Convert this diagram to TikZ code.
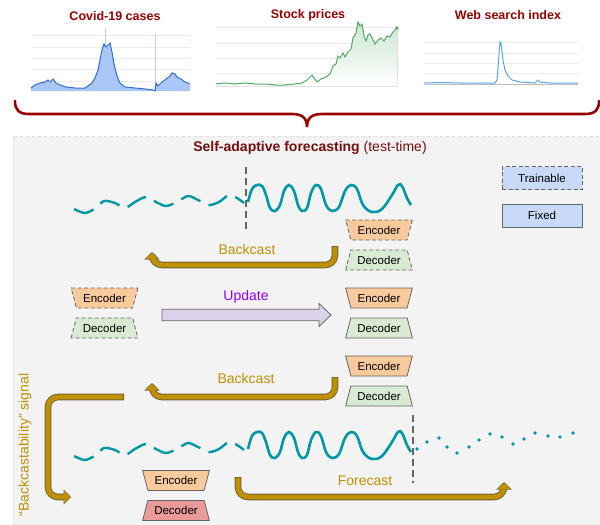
\documentclass[tikz,border=0pt]{standalone}
\usepackage{fontspec}
\setmainfont{Liberation Sans}
\usetikzlibrary{shapes.geometric,arrows.meta,positioning,calc}
\definecolor{berryRed}{RGB}{153,0,0}
\definecolor{maroonTitle}{RGB}{115,15,15}
\definecolor{waveTeal}{RGB}{0,151,167}
\definecolor{goldArrow}{RGB}{191,144,0}
\definecolor{goldEdge}{RGB}{115,98,55}
\definecolor{updatePurple}{RGB}{153,0,255}
\definecolor{updateFill}{RGB}{217,210,233}
\definecolor{encOrange}{RGB}{249,203,156}
\definecolor{decGreen}{RGB}{217,234,211}
\definecolor{decRed}{RGB}{234,153,153}
\definecolor{legendBlue}{RGB}{201,218,248}
\definecolor{panelGray}{RGB}{243,243,243}
\definecolor{edgeGray}{RGB}{102,102,102}
\definecolor{covidFill}{RGB}{168,198,246}
\definecolor{covidLine}{RGB}{51,110,210}
\definecolor{stockGreen}{RGB}{87,170,105}
\definecolor{searchBlue}{RGB}{90,165,232}
\definecolor{gridGray}{RGB}{236,236,236}

\tikzset{
  coder/.style={trapezium, trapezium stretches=true, trapezium left angle=68,
    trapezium right angle=68, minimum width=67pt, minimum height=20pt,
    inner xsep=1pt, inner ysep=1pt, draw=edgeGray, line width=0.8pt,
    font=\fontsize{11.5}{12}\selectfont},
  encoder/.style={coder, fill=encOrange, shape border rotate=180},
  decoder/.style={coder, fill=decGreen},
  trainable/.style={dash pattern=on 4pt off 2.5pt},
  legendbox/.style={draw=edgeGray, fill=legendBlue, line width=0.8pt,
    minimum width=80pt, minimum height=23pt, font=\fontsize{11.5}{12}\selectfont},
  steplabel/.style={font=\fontsize{14}{16}\selectfont, text=goldArrow},
  fatedge/.style={line width=6.6pt, draw=goldEdge, rounded corners=10pt,
    -{Triangle[width=15pt,length=7.5pt]}},
  fatcore/.style={line width=4.8pt, draw=goldArrow, rounded corners=10pt,
    -{Triangle[width=12.3pt,length=5.9pt]}, shorten >=1pt, shorten <=0.9pt},
  pastline/.style={waveTeal, line width=2.4pt, dash pattern=on 21pt off 9pt},
  nowline/.style={waveTeal, line width=2.6pt},
  cutline/.style={draw=edgeGray, line width=1.6pt, dash pattern=on 7pt off 4pt},
  chartgrid/.style={draw=gridGray, line width=0.5pt},
  chartname/.style={font=\fontsize{12.5}{14}\bfseries\selectfont, text=berryRed}
}
\newcommand{\fatarrow}[1]{\draw[fatedge] #1; \draw[fatcore] #1;}
\newcommand{\covidpts}{plot coordinates {(31,88) (35,85) (40,83) (45,82) (48,80)
  (50,82) (53,79) (56,83) (60,85) (66,87) (75,88) (85,88) (88,86) (92,83)
  (95,78) (98,70) (100,60) (102,50) (104,44) (106,47) (108,45) (110,43)
  (112,52) (114,64) (117,76) (120,83) (125,87) (135,88) (145,89) (153,90)
  (155,91) (156,83) (158,86) (162,82) (166,79) (170,76) (172,73) (175,74)
  (177,77) (181,79) (185,82) (190,84)}}
\newcommand{\stockpts}{plot coordinates {(216,84) (225,83) (235,84) (245,83)
  (255,84) (265,84) (275,85) (285,85) (295,84) (302,83) (307,80) (312,75)
  (314,78) (317,82) (321,79) (326,77) (330,74) (333,66) (336,64) (338,56)
  (340,58) (343,53) (345,57) (348,52) (351,49) (353,38) (356,33) (358,22)
  (360,26) (362,24) (364,36) (366,41) (368,35) (370,34) (372,38) (375,44)
  (378,40) (381,38) (384,41) (387,36) (390,37) (393,32) (397,28)}}
\newcommand{\searchpts}{plot coordinates {(424,83) (440,82.5) (460,83) (480,83)
  (495,83) (497,80) (499,55) (500,42) (501,43) (503,60) (505,70) (508,76)
  (512,80) (520,82) (535,83) (538,80) (540,82) (550,83) (578,83)}}
\newcommand{\pastwave}{plot[smooth] coordinates {(74,456) (85,460) (96,455)
  (104,448) (115,450) (125,455) (135,449) (146,444) (156,449) (166,453)
  (177,449) (188,443) (198,447) (209,452) (219,449) (229,442) (237,445) (244,450)}}
\newcommand{\nowwave}{plot[smooth, tension=0.6] coordinates {(248,449) (252,436)
  (257,432) (262,433) (266,442) (270,455) (275,458) (280,452) (284,438)
  (289,432) (294,438) (298,452) (302,458) (307,455) (311,440) (316,432)
  (321,436) (326,452) (332,458) (339,454) (345,438) (351,432) (357,436)
  (363,452) (372,459) (382,456) (392,442) (398,432) (402,433) (407,445) (411,452)}}

\begin{document}
\begin{tikzpicture}[x=1pt,y=-1pt]
\useasboundingbox (0,0) rectangle (600,525);

% three example series
\foreach \g in {35,47,58,69,81} \draw[chartgrid] (31,\g) -- (190,\g);
\foreach \g in {27,43,58,73} \draw[chartgrid] (216,\g) -- (398,\g);
\foreach \g in {42,53,63,73} \draw[chartgrid] (424,\g) -- (578,\g);
\fill[covidFill] \covidpts -- (190,91) -- (31,91) -- cycle;
\draw[covidFill!80, line width=0.6pt] (105,28) -- (105,50) (155,34) -- (155,90);
\draw[covidLine, line width=1pt] \covidpts;
\fill[top color=stockGreen!30, bottom color=white] \stockpts -- (397,86) -- (216,86) -- cycle;
\draw[stockGreen, line width=1pt] \stockpts;
\fill[stockGreen] (397,28) circle (1.8pt);
\draw[gridGray!80!black, line width=0.4pt] (424,84) -- (578,84);
\draw[searchBlue, line width=1pt] \searchpts;
\node[chartname] (covid) at (115,16) {Covid-19 cases};
\node[chartname] (stock) at (308,15) {Stock prices};
\node[chartname] (search) at (508,15) {Web search index};

% brace
\draw[berryRed, line width=2.6pt, line cap=round]
  (15,101) .. controls (15,110) and (19,114) .. (29,114) -- (292,114)
  .. controls (301,114) and (307,117) .. (307,127)
  .. controls (307,117) and (313,114) .. (322,114) -- (585,114)
  .. controls (595,114) and (599,110) .. (599,101);

% panel
\fill[panelGray] (13,136) rectangle (600,525);
\draw[gray!25, dashed] (13,525) -- (13,136) -- (600,136);
\node[text=maroonTitle, font=\fontsize{14}{16}\selectfont] (title) at (310,148)
  {\textbf{Self-adaptive forecasting} (test-time)};

% legend
\node[legendbox, trainable] (trainLeg) at (542,178) {Trainable};
\node[legendbox] (fixedLeg) at (542,215.5) {Fixed};

% row 1
\begin{scope}[shift={(0,-247)}]
  \draw[pastline] \pastwave;
  \draw[nowline] \nowwave;
\end{scope}
\draw[cutline] (246,167) -- (246,231);
\node[encoder, trainable] (enc1) at (379,230) {Encoder};
\node[decoder, trainable] (dec1) at (379,260) {Decoder};
\coordinate (bc1s) at (335,246);
\coordinate (bc1e) at (152,252);
\fatarrow{(bc1s) -- ++(0,19) -| (bc1e)}
\node[steplabel] (bc1) at (247,249) {Backcast};

% row 2
\node[encoder, trainable] (encL) at (104.5,298) {Encoder};
\node[decoder, trainable] (decL) at (104.5,328) {Decoder};
\node[encoder] (encR) at (379,298) {Encoder};
\node[decoder] (decR) at (379,328) {Decoder};
\coordinate (updTail) at (162,315);
\coordinate (updTip) at (331,315);
\draw[draw=edgeGray, fill=updateFill, line width=0.8pt]
  ($(updTail)+(0,-5.7)$) -- ($(updTip)+(-12,-5.7)$) -- ($(updTip)+(-12,-11.5)$)
  -- (updTip) -- ($(updTip)+(-12,11.5)$) -- ($(updTip)+(-12,5.7)$)
  -- ($(updTail)+(0,5.7)$) -- cycle;
\node[font=\fontsize{14}{16}\selectfont, text=updatePurple] (updLbl) at (246,297) {Update};

% row 3
\node[encoder] (enc3) at (379,366) {Encoder};
\node[decoder] (dec3) at (379,396) {Decoder};
\coordinate (bc2s) at (335,377);
\coordinate (bc2e) at (152,383);
\fatarrow{(bc2s) -- ++(0,20) -| (bc2e)}
\node[steplabel] (bc2) at (246,378) {Backcast};

% backcastability signal
\coordinate (sigs) at (124,397);
\coordinate (sigc) at (48,497);
\coordinate (sige) at (71,497);
\fatarrow{(sigs) -| (sigc) -- (sige)}
\node[steplabel, rotate=90] (signal) at (25,445) {``Backcastability'' signal};

% row 4
\draw[pastline] \pastwave;
\draw[nowline] \nowwave;
\foreach \x/\y in {417/449, 427/442, 439/438, 447/447, 457/453, 469/447, 479/440,
  490/434, 502/437, 513/444, 524/439, 535/433, 548/436, 560/437, 573/433}
  \fill[waveTeal] (\x,\y) circle (1.8pt);
\draw[cutline] (413,415) -- (413,483);
\node[encoder] (enc4) at (176,480.5) {Encoder};
\node[decoder, fill=decRed] (dec4) at (176,510.5) {Decoder};
\coordinate (fcs) at (238,477);
\coordinate (fce) at (504,482);
\fatarrow{(fcs) -- ++(0,20) -| (fce)}
\node[steplabel] (fc) at (365,481) {Forecast};
\end{tikzpicture}
\end{document}
